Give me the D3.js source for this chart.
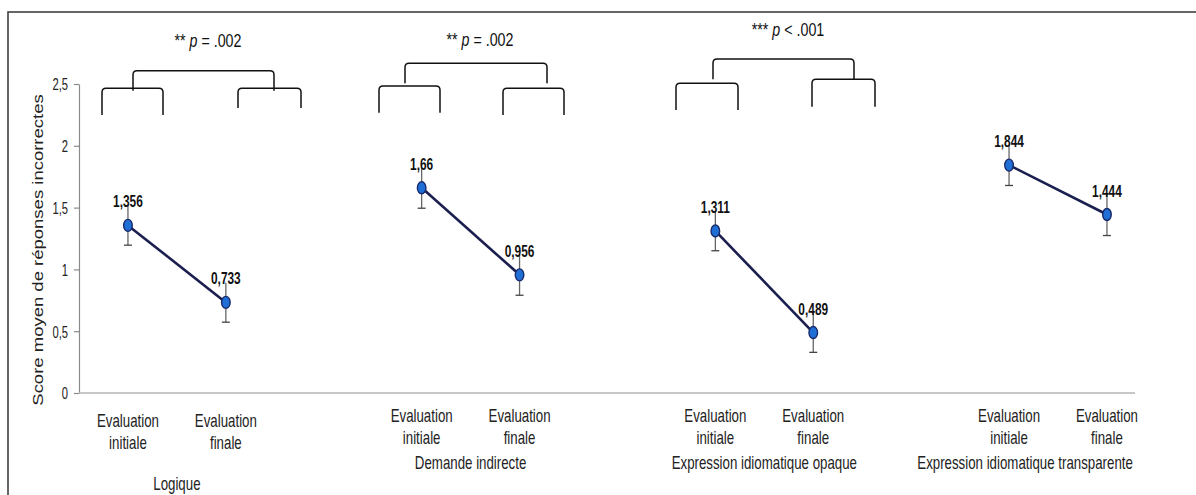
<!DOCTYPE html>
<html><head><meta charset="utf-8">
<script src="https://cdn.jsdelivr.net/npm/d3@7/dist/d3.min.js"></script>
<style>body{margin:0;background:#fff}svg{display:block}</style>
</head><body><svg id="chart" width="1196" height="495"></svg>
<script>
// ---- data ----
const categories = ["Logique", "Demande indirecte", "Expression idiomatique opaque", "Expression idiomatique transparente"];
const phases = ["Evaluation initiale", "Evaluation finale"];
const initialScores = [1.356, 1.66, 1.311, 1.844];
const finalScores = [0.733, 0.956, 0.489, 1.444];
const initialErr = [0.16, 0.165, 0.16, 0.165];
const finalErr = [0.16, 0.165, 0.16, 0.17];
const initialLabels = ["1,356", "1,66", "1,311", "1,844"];
const finalLabels = ["0,733", "0,956", "0,489", "1,444"];
const yTicks = [0, 0.5, 1, 1.5, 2, 2.5];
const yTickLabels = ["0", "0,5", "1", "1,5", "2", "2,5"];
const pStars = ["**", "**", "***"];
const pTexts = [" = .002", " = .002", " < .001"];
const yTitle = "Score moyen de réponses incorrectes";

// ---- layout ----
const W = 1196, H = 495;
const plotLeft = 79, plotRight = 1135, plotTop = 84, plotBottom = 393;
const slotStep = 97.9;
const SX = 0.7;
const FONT = "'Liberation Sans', Arial, sans-serif";

const svg = d3.select("#chart");
svg.append("rect").attr("x", 8).attr("y", 12).attr("width", W).attr("height", H)
  .attr("fill", "none").attr("stroke", "#404040").attr("stroke-width", 1.6);

// slots: two per category, one spacer between categories
const slots = [];
categories.forEach((c, i) => {
  slots.push(c + "|0", c + "|1");
  if (i < categories.length - 1) slots.push("gap" + i);
});
const x = d3.scalePoint().domain(slots).range([plotLeft, plotLeft + slots.length * slotStep]).padding(0.5);
const y = d3.scaleLinear().domain([0, 2.5]).range([plotBottom, plotTop]);

function sq(sel, px, py, sx) {
  return sel.attr("transform", `translate(${px},${py}) scale(${sx == null ? SX : sx},1)`);
}

// y axis
const yAxis = svg.append("g").attr("transform", `translate(${plotLeft},0)`)
  .call(d3.axisLeft(y).tickValues(yTicks).tickSize(5).tickSizeOuter(0).tickFormat((d, i) => yTickLabels[i]));
yAxis.select(".domain").attr("stroke", "#8a8a8a").attr("stroke-width", 1.2);
yAxis.selectAll(".tick line").attr("stroke", "#8a8a8a").attr("stroke-width", 1.2);
yAxis.selectAll(".tick text").attr("x", null).attr("dy", null)
  .attr("font-family", FONT).attr("font-size", 17).attr("fill", "#222")
  .attr("text-anchor", "end").attr("dominant-baseline", "central")
  .attr("transform", `translate(-11,0) scale(0.66,1)`);

// x axis line
svg.append("line").attr("x1", plotLeft).attr("x2", plotRight).attr("y1", y(0)).attr("y2", y(0))
  .attr("stroke", "#b5b5b5").attr("stroke-width", 1.4);

// y title
svg.append("text").text(yTitle)
  .attr("font-family", FONT).attr("font-size", 18.5).attr("fill", "#222")
  .attr("text-anchor", "middle")
  .attr("transform", `translate(43,250) scale(0.75,1) rotate(-90)`);

// x labels
const labelG = svg.append("g").attr("font-family", FONT).attr("font-size", 19).attr("fill", "#222");
categories.forEach((c, i) => {
  const off = i === 0 ? 5 : 0;
  phases.forEach((p, j) => {
    const cx = x(c + "|" + j);
    const words = p.split(" ");
    sq(labelG.append("text").attr("text-anchor", "middle").text(words[0]), cx, 422 + off);
    sq(labelG.append("text").attr("text-anchor", "middle").text(words[1]), cx, 444 + off);
  });
  const mid = (x(c + "|0") + x(c + "|1")) / 2;
  const t = labelG.append("text").attr("text-anchor", "middle").text(c);
  const w = t.node().getComputedTextLength() * SX;
  const cx = Math.min(mid, plotRight - 2 - w / 2);
  sq(t, cx, i === 0 ? 490 : 469);
});

// series
const series = categories.map((c, i) => [
  { key: c + "|0", v: initialScores[i], e: initialErr[i], lab: initialLabels[i] },
  { key: c + "|1", v: finalScores[i], e: finalErr[i], lab: finalLabels[i] }
]);
const line = d3.line().x(d => x(d.key)).y(d => y(d.v));
const sG = svg.append("g");
series.forEach(s => {
  // error bars
  s.forEach(d => {
    const cx = x(d.key);
    sG.append("line").attr("x1", cx).attr("x2", cx).attr("y1", y(d.v + d.e)).attr("y2", y(d.v - d.e))
      .attr("stroke", "#666").attr("stroke-width", 1.3);
    sG.append("line").attr("x1", cx - 4).attr("x2", cx + 4).attr("y1", y(d.v - d.e)).attr("y2", y(d.v - d.e))
      .attr("stroke", "#444").attr("stroke-width", 1.3);
  });
  sG.append("path").datum(s).attr("d", line).attr("fill", "none")
    .attr("stroke", "#1b1f4f").attr("stroke-width", 2.6);
  s.forEach(d => {
    sG.append("ellipse").attr("cx", x(d.key)).attr("cy", y(d.v)).attr("rx", 4.3).attr("ry", 6)
      .attr("fill", "#1f6fd6").attr("stroke", "#1a2a6a").attr("stroke-width", 1.4);
    sq(sG.append("text").text(d.lab).attr("font-family", FONT).attr("font-size", 17)
      .attr("font-weight", "bold").attr("fill", "#111").attr("text-anchor", "middle"),
      x(d.key), y(d.v) - 18, 0.7);
  });
});

// significance brackets (hand-drawn annotation shapes)
const brackets = [
  { top: [133, 274, 70.7, 90.7, 90.7], left: [102, 163, 88.3, 115], right: [238, 301, 88.3, 108], p: [208, 47] },
  { top: [405, 547, 63.3, 83.3, 83.3], left: [379, 440, 86, 112.7], right: [503, 564, 88.3, 115], p: [480, 46] },
  { top: [713, 854, 59, 79.3, 79.3], left: [676, 738, 83.3, 110], right: [812, 875, 79.3, 106.7], p: [788, 36] }
];
function brk(x1, x2, yt, yb1, yb2) {
  const r = 4;
  return `M${x1},${yb1} L${x1},${yt + r} Q${x1},${yt} ${x1 + r},${yt} L${x2 - r},${yt} Q${x2},${yt} ${x2},${yt + r} L${x2},${yb2}`;
}
const bG = svg.append("g").attr("fill", "none").attr("stroke", "#111").attr("stroke-width", 1.5);
brackets.forEach((b, i) => {
  bG.append("path").attr("d", brk(b.top[0], b.top[1], b.top[2], b.top[3], b.top[4]));
  bG.append("path").attr("d", brk(b.left[0], b.left[1], b.left[2], b.left[3], b.left[3]));
  bG.append("path").attr("d", brk(b.right[0], b.right[1], b.right[2], b.right[3], b.right[3]));
  const t = svg.append("text").attr("font-family", FONT).attr("font-size", 19).attr("fill", "#111")
    .attr("text-anchor", "middle");
  t.append("tspan").text(pStars[i] + " ");
  t.append("tspan").attr("font-style", "italic").text("p");
  t.append("tspan").text(pTexts[i]);
  sq(t, b.p[0], b.p[1], 0.75);
});
</script></body></html>
